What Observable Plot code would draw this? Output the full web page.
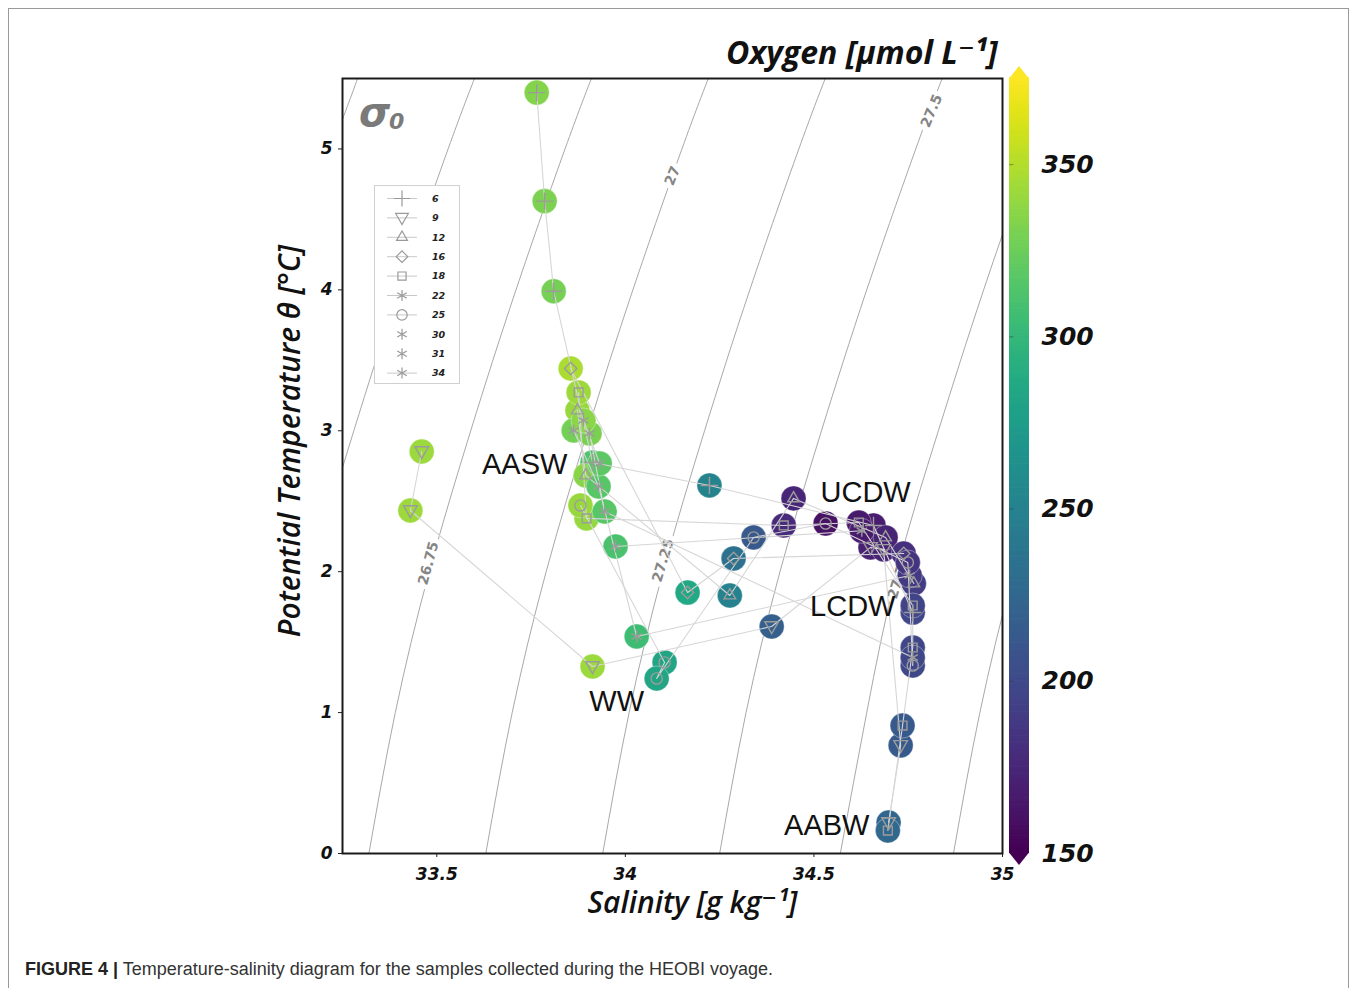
<!DOCTYPE html>
<html><head><meta charset="utf-8">
<script src="https://cdn.jsdelivr.net/npm/d3@7"></script>
<script src="https://cdn.jsdelivr.net/npm/@observablehq/plot@0.6"></script>
<style>
html,body{margin:0;padding:0;background:#fff}
body{width:1357px;height:988px;position:relative;overflow:hidden;font-family:"Liberation Sans",Arial,sans-serif}
#border{position:absolute;left:8px;top:8px;width:1341px;height:1000px;border:1px solid #9a9a9a;box-sizing:border-box}
#main{position:absolute;left:0;top:0}
#cbar{position:absolute;left:999px;top:0}
#legend{position:absolute;left:374px;top:185px;width:86px;height:199px;border:1px solid #d0d0d0;background:#fff;box-sizing:border-box}
#caption{position:absolute;left:25px;top:959px;font-size:18px;color:#333;white-space:nowrap}
#caption b{color:#222}
</style>
</head><body>
<div id="border"></div>
<div id="main"></div>
<div id="cbar"></div>
<div id="legend"></div>
<div id="caption"><b>FIGURE 4 |</b> Temperature-salinity diagram for the samples collected during the HEOBI voyage.</div>
<script>
// ---------- data ----------
const xTicks = [33.5, 34, 34.5, 35];
const yTicks = [0, 1, 2, 3, 4, 5];
const cbTicks = [150, 200, 250, 300, 350];
const stationIds = [6, 9, 12, 16, 18, 22, 25, 30, 31, 34];

// samples: station, salinity, potential temperature, oxygen
const station = [
  6,6,6,6,6,6,6,
  9,9,9,9,9,9,9,9,
  12,12,12,12,12,12,
  16,16,16,16,
  18,18,18,18,18,18,18,18,
  22,22,22,22,
  25,25,25,25,25,25,25,
  30,30,30,
  31,31,
  34,34
];
const salinity = [
  33.765,33.786,33.810,33.913,34.223,34.658,34.762,
  33.460,33.430,33.913,34.388,34.650,34.685,34.730,34.698,
  33.873,33.895,34.277,34.446,34.690,34.765,
  33.855,34.165,34.287,34.738,
  33.876,33.897,34.420,34.619,34.762,34.762,34.735,34.696,
  33.863,33.929,34.030,34.754,
  33.881,34.104,34.083,34.340,34.531,34.749,34.762,
  33.905,33.945,34.762,
  33.974,34.627,
  33.889,33.932
];
const theta = [
  5.40,4.63,3.99,2.775,2.612,2.328,1.71,
  2.853,2.434,1.327,1.611,2.172,2.158,0.767,0.22,
  3.144,2.683,1.831,2.52,2.243,1.916,
  3.442,1.852,2.094,2.129,
  3.272,2.378,2.328,2.349,1.76,1.462,0.908,0.163,
  3.002,2.605,1.54,1.973,
  2.47,1.356,1.242,2.243,2.342,2.065,1.334,
  2.981,2.427,1.391,
  2.179,2.29,
  3.073,2.768
];
const oxygen = [
  333,331,328,312,251,167,197,
  341,342,341,217,171,172,213,224,
  340,335,249,174,172,190,
  346,285,235,181,
  342,339,177,165,195,198,212,225,
  327,316,305,187,
  340,282,282,212,160,185,199,
  330,316,198,
  310,166,
  336,318
];

// sigma-0 isopycnals (salinity at each theta)
const isoLevels = ["26.25","26.5","26.75","27","27.25","27.5","27.75","28"];
const isoTheta = [0, 1, 2, 3, 4, 5, 5.5];
const iso2625 = [32.70,32.77,32.85,32.96,33.08,33.22,33.29];
const iso2650 = [33.01,33.08,33.17,33.28,33.40,33.53,33.60];
const iso2675 = [33.32,33.39,33.48,33.59,33.71,33.84,33.91];
const iso2700 = [33.63,33.70,33.79,33.90,34.02,34.15,34.22];
const iso2725 = [33.94,34.01,34.10,34.21,34.33,34.46,34.53];
const iso2750 = [34.25,34.32,34.41,34.52,34.64,34.77,34.84];
const iso2775 = [34.57,34.64,34.72,34.83,34.95,35.08,35.15];
const iso2800 = [34.87,34.94,35.03,35.14,35.26,35.39,35.46];

const isoLabelText = ["26.75","27","27.25","27.5","27.75"];
const isoLabelS = [33.478, 34.125, 34.100, 34.812, 34.725];
const isoLabelT = [2.06, 4.81, 2.08, 5.27, 1.96];
const isoLabelAngle = [-75, -68, -73, -67, -73];

const waterNames = ["AASW","UCDW","LCDW","WW","AABW"];
const waterS = [33.733, 34.637, 34.603, 33.977, 34.534];
const waterT = [2.76, 2.56, 1.753, 1.079, 0.199];

const sigmaS = [33.335];
const sigmaT = [5.252];

// ---------- build tables ----------
const points = station.map((s, i) => ({stn: s, S: salinity[i], T: theta[i], O2: oxygen[i]}));
const isoArrays = [iso2625, iso2650, iso2675, iso2700, iso2725, iso2750, iso2775, iso2800];
const isoTable = [];
isoArrays.forEach((arr, k) => arr.forEach((s, j) => isoTable.push({level: isoLevels[k], S: s, T: isoTheta[j]})));
const isoLabels = isoLabelText.map((t, i) => ({t, S: isoLabelS[i], T: isoLabelT[i], a: isoLabelAngle[i]}));
const waterLabels = waterNames.map((n, i) => ({n, S: waterS[i], T: waterT[i]}));
const sigmaPos = sigmaS.map((s, i) => ({S: s, T: sigmaT[i]}));

const triDown = {draw(ctx, size) {
  const h = Math.sqrt(size) * 1.15;
  ctx.moveTo(-h * 0.6, -h * 0.42);
  ctx.lineTo(h * 0.6, -h * 0.42);
  ctx.lineTo(0, h * 0.62);
  ctx.closePath();
}};
const symbolObjs = [
  d3.symbolPlus || d3.symbolCross,
  triDown,
  d3.symbolTriangle2 || d3.symbolTriangle,
  d3.symbolDiamond2 || d3.symbolDiamond,
  d3.symbolSquare2 || d3.symbolSquare,
  d3.symbolAsterisk || d3.symbolStar,
  d3.symbolCircle,
  d3.symbolAsterisk || d3.symbolStar,
  d3.symbolAsterisk || d3.symbolStar,
  d3.symbolAsterisk || d3.symbolStar
];

const colorOpts = {type: "linear", scheme: "viridis", domain: [150, 375], clamp: true};
const numFont = "DejaVu Sans";
const labelFont = "'Open Sans', 'DejaVu Sans', sans-serif";

const main = Plot.plot({
  width: 1010, height: 923,
  marginLeft: 342, marginRight: 8, marginTop: 78, marginBottom: 70,
  style: {background: "transparent", overflow: "visible"},
  x: {domain: [33.25, 35]},
  y: {domain: [0, 5.5]},
  color: colorOpts,
  marks: [
    Plot.line(isoTable, {x: "S", y: "T", z: "level", stroke: "#a8a8a8", strokeWidth: 1, curve: "natural", clip: true}),
    Plot.text(isoLabels, {x: "S", y: "T", text: "t", rotate: "a", fill: "#858585", stroke: "white", strokeWidth: 10, paintOrder: "stroke", fontSize: 14, fontWeight: "bold", fontFamily: numFont}),
    Plot.dot(points, {x: "S", y: "T", r: 12.5, fill: "O2", stroke: "white", strokeWidth: 0.6, strokeOpacity: 0.6}),
    Plot.line(points, {x: "S", y: "T", z: "stn", stroke: "#d6d6d6", strokeWidth: 1.1}),
    ...stationIds.map((id, i) => Plot.dot(points.filter(p => p.stn === id), {
      x: "S", y: "T", symbol: symbolObjs[i], r: 5.6, stroke: "#9c9c9c", strokeWidth: 1.4, fill: "none"
    })),
    Plot.text(waterLabels, {x: "S", y: "T", text: "n", fontSize: 29, fill: "#111", fontFamily: "'Liberation Sans', Arial, sans-serif"}),
    Plot.text(sigmaPos, {x: "S", y: "T", text: () => "σ", fontSize: 40, fontStyle: "italic", fontWeight: "bold", fill: "#7a7a7a", fontFamily: numFont}),
    Plot.text(sigmaPos, {x: "S", y: "T", text: () => "0", dx: 22, dy: 9, fontSize: 22, fontStyle: "italic", fontWeight: "bold", fill: "#7a7a7a", fontFamily: numFont}),
    Plot.axisX({ticks: xTicks, tickFormat: d => String(d), tickSize: 4, tickPadding: 10, fontSize: 17, fontWeight: "bold", fontStyle: "italic", fontFamily: numFont, label: null, stroke: "#222", fill: "#111"}),
    Plot.axisY({ticks: yTicks, tickFormat: d => String(d), tickSize: 4, tickPadding: 6, fontSize: 17, fontWeight: "bold", fontStyle: "italic", fontFamily: numFont, label: null, stroke: "#222", fill: "#111"}),
    Plot.frame({stroke: "#1a1a1a", strokeWidth: 2}),
    Plot.text(["Salinity [g kg⁻¹]"], {frameAnchor: "bottom", text: d => d, textAnchor: "middle", lineAnchor: "middle", dx: 20, dy: 50, fontSize: 30, fontStyle: "italic", fontWeight: 600, fill: "#111", fontFamily: labelFont}),
    Plot.text(["Potential Temperature θ [°C]"], {frameAnchor: "left", text: d => d, textAnchor: "middle", lineAnchor: "middle", rotate: -90, dx: -52, dy: -25, fontSize: 30, fontStyle: "italic", fontWeight: 600, fill: "#111", fontFamily: labelFont}),
    Plot.text(["Oxygen [µmol L⁻¹]"], {frameAnchor: "top-right", text: d => d, textAnchor: "end", lineAnchor: "middle", dx: -5, dy: -25, fontSize: 32, fontStyle: "italic", fontWeight: "bold", fill: "#111", fontFamily: labelFont})
  ]
});
document.getElementById("main").appendChild(main);

// ---------- colorbar ----------
const cbStops = d3.range(150, 375, 1);
const cb = Plot.plot({
  width: 110, height: 923,
  marginLeft: 10, marginRight: 80, marginTop: 78, marginBottom: 70,
  style: {background: "transparent", overflow: "visible"},
  x: {domain: [0, 1], axis: null},
  y: {domain: [150, 375]},
  color: colorOpts,
  marks: [
    Plot.rect(cbStops, {x1: 0, x2: 1, y1: d => d, y2: d => d + 1.2, fill: d => d}),
    Plot.ruleY(cbTicks.slice(1), {x1: 0, x2: 0.22, stroke: "#333", strokeOpacity: 0.45}),
    Plot.axisY({anchor: "right", ticks: cbTicks, tickFormat: d => String(d), tickSize: 0, tickPadding: 12, fontSize: 25, fontWeight: "bold", fontStyle: "italic", fontFamily: numFont, label: null, fill: "#111"})
  ]
});
{
  const xs = cb.scale("x"), ys = cb.scale("y"), cs = cb.scale("color");
  const x0 = xs.apply(0), x1 = xs.apply(1), xm = xs.apply(0.5);
  const yTop = ys.apply(375), yBot = ys.apply(150);
  const s = d3.select(cb);
  s.append("polygon").attr("points", `${x0},${yTop + 0.5} ${x1},${yTop + 0.5} ${xm},${yTop - 12}`).attr("fill", cs.apply(375));
  s.append("polygon").attr("points", `${x0},${yBot - 0.5} ${x1},${yBot - 0.5} ${xm},${yBot + 12}`).attr("fill", cs.apply(150));
}
document.getElementById("cbar").appendChild(cb);

// ---------- station legend ----------
{
  const lg = d3.select("#legend").append("svg").attr("width", 86).attr("height", 199).style("display", "block");
  const noLine = new Set([30, 31]);
  stationIds.forEach((id, i) => {
    const cy = 12.5 + i * 19.4;
    const g = lg.append("g").attr("transform", `translate(0,${cy})`);
    if (!noLine.has(id)) g.append("line").attr("x1", 12).attr("x2", 42).attr("y1", 0).attr("y2", 0).attr("stroke", "#c8c8c8").attr("stroke-width", 1);
    g.append("path").attr("transform", "translate(27,0)").attr("d", d3.symbol(symbolObjs[i], 85)())
      .attr("fill", "none").attr("stroke", "#9a9a9a").attr("stroke-width", 1.2);
    g.append("text").attr("x", 57).attr("y", 0).attr("dy", "0.35em").text(String(id))
      .attr("font-family", numFont).attr("font-size", 9.5).attr("font-weight", "bold").attr("font-style", "italic").attr("fill", "#222");
  });
}
</script>
</body></html>
